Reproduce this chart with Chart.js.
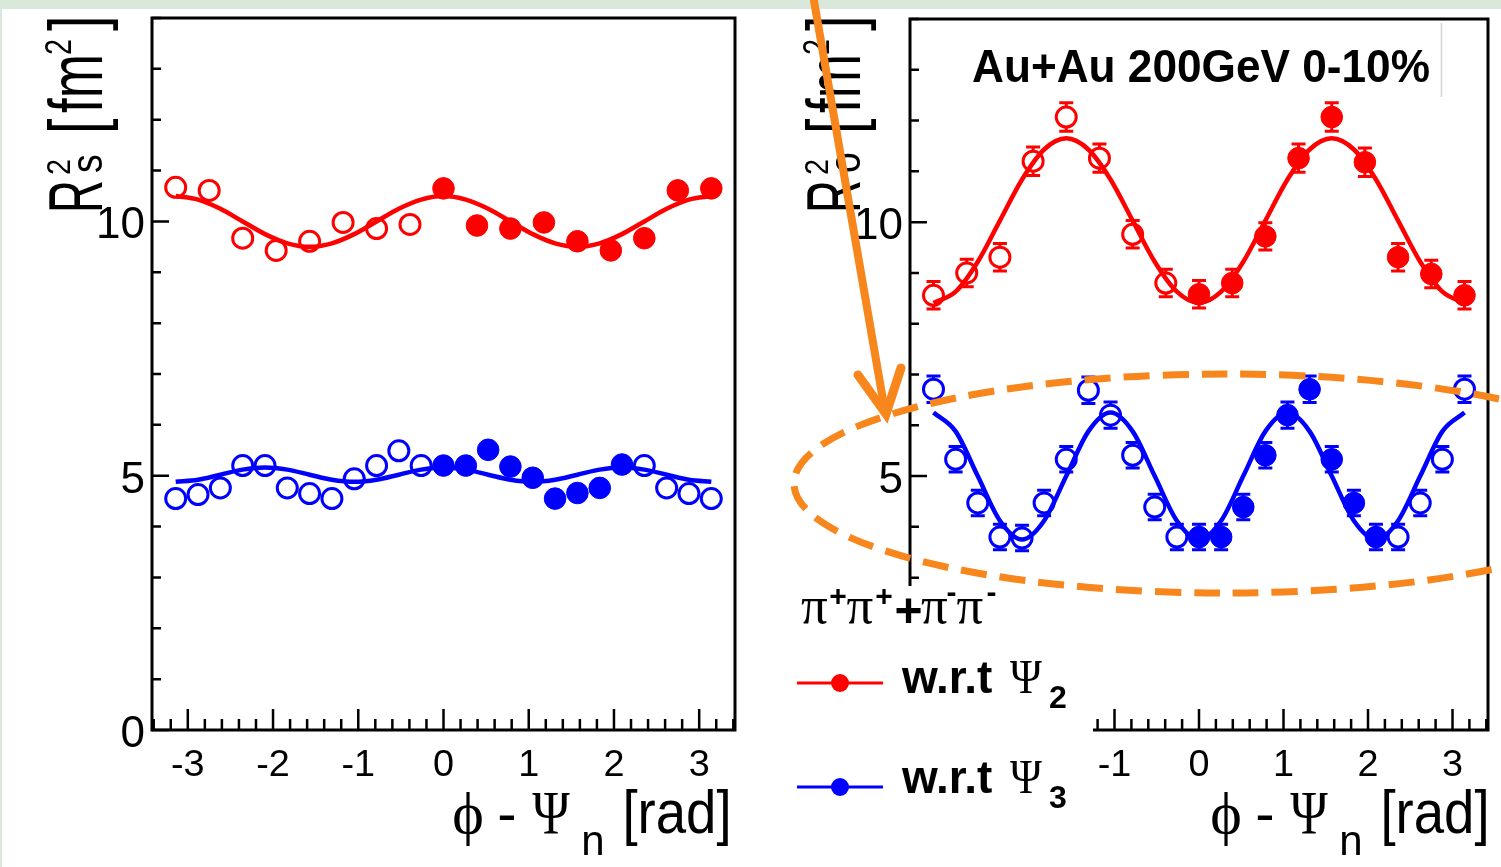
<!DOCTYPE html>
<html>
<head>
<meta charset="utf-8">
<script src="https://cdn.jsdelivr.net/npm/chart.js@4.4.1/dist/chart.umd.min.js"></script>
<style>
html,body{margin:0;padding:0;width:1501px;height:867px;overflow:hidden;background:#d8e9db;}
#paper{position:absolute;left:2px;top:9px;width:1499px;height:858px;background:#ffffff;}
canvas{position:absolute;top:0;}
#cL{left:0px;}
#cR{left:750px;}
</style>
</head>
<body>
<div id="paper"></div>
<canvas id="cL" width="750" height="867"></canvas>
<canvas id="cR" width="751" height="867"></canvas>
<script>
// ---------------- data ----------------
// azimuthal angle phi - Psi_n [rad]
const phiPsi2Open   = [-3.142,-2.749,-2.356,-1.963,-1.571,-1.178,-0.785,-0.393];
const phiPsi2Filled = [0,0.393,0.785,1.178,1.571,1.963,2.356,2.749,3.142];
const phiPsi3Open   = [-3.142,-2.880,-2.618,-2.356,-2.094,-1.833,-1.571,-1.309,-1.047,-0.785,-0.524,-0.262];
const phiPsi3Filled = [0,0.262,0.524,0.785,1.047,1.309,1.571,1.833,2.094];
const phiPsi3Tail   = [2.356,2.618,2.880,3.142];
const phiFit = [-3.142,-2.880,-2.618,-2.356,-2.094,-1.833,-1.571,-1.309,-1.047,-0.785,-0.524,-0.262,0,
                0.262,0.524,0.785,1.047,1.309,1.571,1.833,2.094,2.356,2.618,2.880,3.142];

// left panel: R_s^2 [fm^2]
const rsPsi2Open   = [10.67,10.61,9.67,9.43,9.61,9.98,9.86,9.94];
const rsPsi2Filled = [10.65,9.92,9.86,9.98,9.61,9.43,9.67,10.61,10.65];
const rsPsi3Open   = [4.55,4.63,4.76,5.20,5.20,4.76,4.65,4.55,4.94,5.20,5.49,5.20];
const rsPsi3Filled = [5.20,5.20,5.51,5.18,4.96,4.55,4.66,4.76,5.22];
const rsPsi3Tail   = [5.20,4.76,4.65,4.55];
const rsPsi2Fit = [10.50,10.43,10.25,10.00,9.75,9.57,9.50,9.57,9.75,10.00,10.25,10.43,10.50,
                   10.43,10.25,10.00,9.75,9.57,9.50,9.57,9.75,10.00,10.25,10.43,10.50];
const rsPsi3Fit = [4.88,4.92,5.02,5.12,5.16,5.12,5.02,4.92,4.88,4.92,5.02,5.12,5.16,
                   5.12,5.02,4.92,4.88,4.92,5.02,5.12,5.16,5.12,5.02,4.92,4.88];

// right panel: R_o^2 [fm^2]
const roPsi2Open   = [8.56,9.00,9.31,11.20,12.07,11.26,9.76,8.80];
const roPsi2Filled = [8.58,8.80,9.72,11.26,12.07,11.18,9.31,8.98,8.56];
const roPsi3Open   = [6.71,5.33,4.47,3.80,3.78,4.47,5.33,6.69,6.20,5.41,4.39,3.80];
const roPsi3Filled = [3.80,3.80,4.39,5.41,6.20,6.71,5.33,4.47,3.80];
const roPsi3Tail   = [3.80,4.47,5.33,6.71];
const roPsi2OpenErr   = [0.27,0.27,0.27,0.28,0.28,0.28,0.27,0.27];
const roPsi2FilledErr = [0.27,0.27,0.27,0.28,0.28,0.28,0.27,0.27,0.27];
const roPsi3OpenErr   = [0.26,0.25,0.25,0.25,0.25,0.25,0.25,0.26,0.26,0.25,0.25,0.25];
const roPsi3FilledErr = [0.25,0.25,0.25,0.25,0.26,0.26,0.25,0.25,0.25];
const roPsi3TailErr   = [0.25,0.25,0.25,0.26];
const roPsi2Fit = [8.41,8.63,9.22,10.03,10.84,11.43,11.65,11.43,10.84,10.03,9.22,8.63,8.41,
                   8.63,9.22,10.03,10.84,11.43,11.65,11.43,10.84,10.03,9.22,8.63,8.41];
const roPsi3Fit = [6.25,5.88,5.00,4.12,3.75,4.12,5.00,5.88,6.25,5.88,5.00,4.12,3.75,
                   4.12,5.00,5.88,6.25,5.88,5.00,4.12,3.75,4.12,5.00,5.88,6.25];

// axes
const xTicks = [-3.4,-3.2,-3.0,-2.8,-2.6,-2.4,-2.2,-2.0,-1.8,-1.6,-1.4,-1.2,-1.0,-0.8,-0.6,-0.4,-0.2,0,
                0.2,0.4,0.6,0.8,1.0,1.2,1.4,1.6,1.8,2.0,2.2,2.4,2.6,2.8,3.0,3.2,3.4];
const xMajor  = [-3,-2,-1,0,1,2,3];
const xLabels = ['-3','-2','-1','0','1','2','3'];
const yTicks  = [0,1,2,3,4,5,6,7,8,9,10,11,12,13,14];
const yMajor  = [0,5,10];
const yLabels = ['0','5','10'];

// ---------------- drawing helpers ----------------
const SANS = '"Liberation Sans", Arial, Helvetica, sans-serif';
const SERIF = '"Liberation Serif", "DejaVu Serif", "Times New Roman", serif';
const RED = '#ff0000', BLUE = '#0000ff', ORANGE = '#f7861c';

function T(ctx, s, x, y, font, o) {
  o = o || {};
  ctx.save();
  ctx.font = font;
  ctx.fillStyle = o.color || '#000';
  ctx.textAlign = o.align || 'left';
  ctx.textBaseline = 'alphabetic';
  ctx.translate(x, y);
  if (o.rot) ctx.rotate(-Math.PI / 2);
  ctx.scale(o.sx || 1, o.sy || 1);
  ctx.fillText(s, 0, 0);
  ctx.restore();
}

function pts(xs, ys) { return xs.map((x, i) => ({x: x, y: ys[i]})); }

function openSet(xs, ys, c, err) {
  return {data: pts(xs, ys), showLine: false, pointRadius: 10, pointBorderWidth: 3,
          pointBackgroundColor: 'rgba(0,0,0,0)', pointBorderColor: c, borderColor: c, errors: err};
}
function filledSet(xs, ys, c, err) {
  return {data: pts(xs, ys), showLine: false, pointRadius: 10.8, pointBorderWidth: 1,
          pointBackgroundColor: c, pointBorderColor: c, borderColor: c, errors: err};
}
function fitSet(ys, c) {
  return {data: pts(phiFit, ys), showLine: true, borderColor: c, borderWidth: 4.5, pointRadius: 0,
          cubicInterpolationMode: 'monotone', fill: false};
}

function panelPlugin(cfg) {
  return {
    id: 'panel_' + cfg.name,
    afterDatasetsDraw(chart) {
      const ctx = chart.ctx, ys = chart.scales.y;
      ctx.save();
      chart.data.datasets.forEach((ds, di) => {
        if (!ds.errors) return;
        const meta = chart.getDatasetMeta(di);
        ctx.strokeStyle = ds.borderColor; ctx.lineWidth = 3;
        meta.data.forEach((p, i) => {
          const v = ds.data[i].y, e = ds.errors[i];
          const yTop = ys.getPixelForValue(v + e), yBot = ys.getPixelForValue(v - e);
          const r = 10.5;
          ctx.beginPath();
          if (p.y - r > yTop) { ctx.moveTo(p.x, yTop); ctx.lineTo(p.x, p.y - r); }
          if (p.y + r < yBot) { ctx.moveTo(p.x, p.y + r); ctx.lineTo(p.x, yBot); }
          ctx.moveTo(p.x - 7, yTop); ctx.lineTo(p.x + 7, yTop);
          ctx.moveTo(p.x - 7, yBot); ctx.lineTo(p.x + 7, yBot);
          ctx.stroke();
        });
      });
      ctx.restore();
    },
    afterDraw(chart) {
      const ctx = chart.ctx, ca = chart.chartArea, xs = chart.scales.x, ys = chart.scales.y;
      ctx.save();
      // frame
      ctx.strokeStyle = '#000'; ctx.lineWidth = 3;
      ctx.strokeRect(ca.left, ca.top, ca.right - ca.left, ca.bottom - ca.top);
      // inward ticks
      ctx.lineWidth = 2.5;
      ctx.beginPath();
      ys.ticks.forEach(t => {
        const y = ys.getPixelForValue(t.value);
        const L = yMajor.indexOf(t.value) >= 0 ? 17 : 9;
        ctx.moveTo(ca.left, y); ctx.lineTo(ca.left + L, y);
      });
      xs.ticks.forEach(t => {
        const x = xs.getPixelForValue(t.value);
        const major = Math.abs(t.value - Math.round(t.value)) < 1e-6;
        const L = major ? 21 : 11;
        ctx.moveTo(x, ca.bottom); ctx.lineTo(x, ca.bottom - L);
      });
      ctx.stroke();
      // tick labels
      ys.ticks.forEach(t => {
        const k = yMajor.indexOf(t.value);
        if (k < 0) return;
        T(ctx, yLabels[k], ca.left - 7, ys.getPixelForValue(t.value) + 17, '44px ' + SANS, {align: 'right'});
      });
      xs.ticks.forEach(t => {
        const k = xMajor.findIndex(m => Math.abs(m - t.value) < 1e-6);
        if (k < 0) return;
        T(ctx, xLabels[k], xs.getPixelForValue(t.value), 776, '36px ' + SANS, {align: 'center', sx: 1.05});
      });

      // page-coordinate texts
      ctx.translate(-cfg.canvasOff, 0);
      const o = cfg.pageOff;
      // y title  R^2_s [fm^2]
      const bx = 102 + o;
      T(ctx, 'R', bx, 213, '76px ' + SANS, {rot: true, sx: 0.6});
      T(ctx, cfg.sub, bx, 173, '44px ' + SANS, {rot: true, sx: 0.85});
      T(ctx, '2', bx - 32, 175, '34px ' + SANS, {rot: true, sx: 0.85});
      T(ctx, '[', bx, 134, '76px ' + SANS, {rot: true, sx: 0.73});
      T(ctx, 'fm', bx, 113, '76px ' + SANS, {rot: true, sx: 0.7});
      T(ctx, '2', bx - 31, 55, '36px ' + SANS, {rot: true, sx: 0.8});
      T(ctx, ']', bx, 31, '76px ' + SANS, {rot: true, sx: 0.73});
      // x title  phi - Psi_n [rad]
      T(ctx, '\u03D5', 468 + o, 833, '60px ' + SERIF, {align: 'center'});
      T(ctx, '-', 507 + o, 833, '58px ' + SANS, {align: 'center'});
      T(ctx, '\u03A8', 551 + o, 833, '62px ' + SERIF, {align: 'center', sx: 0.82});
      T(ctx, 'n', 593 + o, 855, '42px ' + SANS, {align: 'center'});
      T(ctx, '[rad]', 677 + o, 833, '62px ' + SANS, {align: 'center', sx: 0.88});

      if (cfg.extras) {
        // title
        T(ctx, 'Au+Au 200GeV 0-10%', 972, 82, 'bold 47px ' + SANS, {sx: 0.94});
        ctx.strokeStyle = '#d2d2d2'; ctx.lineWidth = 1.5;
        ctx.beginPath(); ctx.moveTo(1441.5, 23); ctx.lineTo(1441.5, 97); ctx.stroke();

        // legend box
        ctx.fillStyle = '#ffffff';
        ctx.fillRect(752, 586, 1093 - 752, 867 - 586);
        const PI = '53px ' + SERIF, SUP = 'bold 30px ' + SANS;
        T(ctx, '\u03C0', 814.5, 623, PI, {align: 'center'});
        T(ctx, '+', 838, 606, SUP, {align: 'center'});
        T(ctx, '\u03C0', 860, 623, PI, {align: 'center'});
        T(ctx, '+', 884, 606, SUP, {align: 'center'});
        T(ctx, '+', 908.5, 627, 'bold 48px ' + SANS, {align: 'center'});
        T(ctx, '\u03C0', 934.5, 623, PI, {align: 'center'});
        T(ctx, '-', 951.5, 602, SUP, {align: 'center'});
        T(ctx, '\u03C0', 970, 623, PI, {align: 'center'});
        T(ctx, '-', 991.5, 602, SUP, {align: 'center'});

        const entries = [
          {y: 683, c: RED, n: '2', tb: 693, sb: 708},
          {y: 787, c: BLUE, n: '3', tb: 793, sb: 808}
        ];
        entries.forEach(en => {
          ctx.strokeStyle = en.c; ctx.lineWidth = 3;
          ctx.beginPath(); ctx.moveTo(797, en.y); ctx.lineTo(883, en.y); ctx.stroke();
          ctx.fillStyle = en.c;
          ctx.beginPath(); ctx.arc(840, en.y, 9, 0, Math.PI * 2); ctx.fill();
          T(ctx, 'w.r.t', 902, en.tb, 'bold 46px ' + SANS, {sx: 1.0});
          T(ctx, '\u03A8', 1026, en.tb, '48px ' + SERIF, {align: 'center', sx: 0.9});
          T(ctx, en.n, 1058, en.sb, 'bold 32px ' + SANS, {align: 'center'});
        });

        // orange dashed ellipse
        ctx.strokeStyle = ORANGE; ctx.lineWidth = 7;
        ctx.setLineDash([26, 13]);
        ctx.beginPath(); ctx.ellipse(1225, 483.5, 431, 109.5, 0, 0, Math.PI * 2); ctx.stroke();
        ctx.setLineDash([]);
        // orange arrow
        ctx.lineWidth = 8; ctx.lineCap = 'butt';
        ctx.beginPath(); ctx.moveTo(813, -5); ctx.lineTo(884, 406); ctx.stroke();
        ctx.lineWidth = 9; ctx.lineCap = 'round'; ctx.lineJoin = 'miter';
        ctx.beginPath(); ctx.moveTo(858, 375); ctx.lineTo(886, 414); ctx.lineTo(901, 368); ctx.stroke();
      }
      ctx.restore();
    }
  };
}

function makeChart(id, datasets, cfg) {
  return new Chart(document.getElementById(id), {
    type: 'scatter',
    data: {datasets: datasets},
    options: {
      responsive: false, animation: false, devicePixelRatio: 1, events: [],
      layout: {padding: {left: 0, top: cfg.top, right: cfg.right, bottom: 0}},
      plugins: {legend: {display: false}, tooltip: {enabled: false}},
      scales: {
        x: {type: 'linear', min: -3.42, max: 3.42,
            grid: {display: false, drawTicks: false}, border: {display: false}, ticks: {display: false},
            afterBuildTicks: s => { s.ticks = xTicks.map(v => ({value: v})); },
            afterFit: s => { s.height = 137; }},
        y: {type: 'linear', min: 0, max: 14,
            grid: {display: false, drawTicks: false}, border: {display: false}, ticks: {display: false},
            afterBuildTicks: s => { s.ticks = yTicks.map(v => ({value: v})); },
            afterFit: s => { s.width = cfg.yw; }}
      }
    },
    plugins: [panelPlugin(cfg)]
  });
}

makeChart('cL', [
  openSet(phiPsi2Open, rsPsi2Open, RED),
  filledSet(phiPsi2Filled, rsPsi2Filled, RED),
  openSet(phiPsi3Open, rsPsi3Open, BLUE),
  filledSet(phiPsi3Filled, rsPsi3Filled, BLUE),
  openSet(phiPsi3Tail, rsPsi3Tail, BLUE),
  fitSet(rsPsi2Fit, RED),
  fitSet(rsPsi3Fit, BLUE)
], {name: 'L', top: 18, right: 15, yw: 152, canvasOff: 0, pageOff: 0, sub: 's', extras: false});

makeChart('cR', [
  openSet(phiPsi2Open, roPsi2Open, RED, roPsi2OpenErr),
  filledSet(phiPsi2Filled, roPsi2Filled, RED, roPsi2FilledErr),
  openSet(phiPsi3Open, roPsi3Open, BLUE, roPsi3OpenErr),
  filledSet(phiPsi3Filled, roPsi3Filled, BLUE, roPsi3FilledErr),
  openSet(phiPsi3Tail, roPsi3Tail, BLUE, roPsi3TailErr),
  fitSet(roPsi2Fit, RED),
  fitSet(roPsi3Fit, BLUE)
], {name: 'R', top: 19, right: 10, yw: 160, canvasOff: 750, pageOff: 758, sub: 'o', extras: true});
</script>
</body>
</html>
